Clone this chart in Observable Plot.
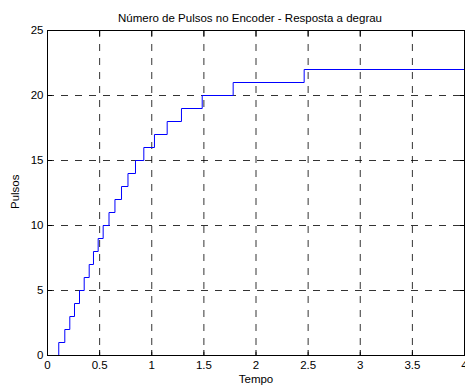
<!DOCTYPE html>
<html>
<head>
<meta charset="utf-8">
<script src="https://cdn.jsdelivr.net/npm/d3@7"></script>
<script src="https://cdn.jsdelivr.net/npm/@observablehq/plot@0.6"></script>
<style>
  html, body { margin: 0; padding: 0; background: #fff; }
  svg { display: block; }
</style>
</head>
<body>
<div id="chart"></div>
<script>
const titleText = "Número de Pulsos no Encoder - Resposta a degrau";
const xLabel = "Tempo";
const yLabel = "Pulsos";

// step times (s) and pulse counts (step-after)
const tempo = [0, 0.108, 0.166, 0.214, 0.259, 0.307, 0.352, 0.400, 0.441, 0.486, 0.534,
  0.590, 0.647, 0.710, 0.772, 0.844, 0.924, 1.026, 1.148, 1.285, 1.484, 1.781, 2.462, 4];
const pulsos = [0, 1, 2, 3, 4, 5, 6, 7, 8, 9, 10,
  11, 12, 13, 14, 15, 16, 17, 18, 19, 20, 21, 22, 22];

const xTicks = [0, 0.5, 1, 1.5, 2, 2.5, 3, 3.5, 4];
const yTicks = [0, 5, 10, 15, 20, 25];
const xGrid = [0.5, 1, 1.5, 2, 2.5, 3, 3.5];
const yGrid = [5, 10, 15, 20];

const data = tempo.map((t, i) => ({t, p: pulsos[i]}));
const fmt = d => String(d);
const font = "Liberation Sans, Arial, Helvetica, sans-serif";

const chart = Plot.plot({
  width: 465,
  height: 390,
  marginLeft: 47,
  marginRight: 1,
  marginTop: 30,
  marginBottom: 35,
  style: {fontFamily: font, fontSize: "11.5px", color: "#000", background: "#fff"},
  x: {domain: [0, 4], label: null},
  y: {domain: [0, 25], label: null},
  marks: [
    Plot.ruleX(xGrid, {stroke: "#000", strokeDasharray: "7,7", strokeWidth: 1, strokeOpacity: 0.8}),
    Plot.ruleY(yGrid, {stroke: "#000", strokeDasharray: "7,7", strokeWidth: 1, strokeOpacity: 0.8}),
    Plot.line(data, {x: "t", y: "p", curve: "step-after", stroke: "#0000ff", strokeWidth: 1}),
    Plot.frame({stroke: "#000", strokeWidth: 1}),
    Plot.axisX(xTicks, {anchor: "bottom", tickSize: -5, tickPadding: 10, tickFormat: fmt, label: null, fontSize: 11.5}),
    Plot.axisX(xTicks, {anchor: "top", tickSize: -5, tickFormat: () => "", label: null}),
    Plot.axisY(yTicks, {anchor: "left", tickSize: -5, tickPadding: 9, tickFormat: fmt, label: null, fontSize: 11.5}),
    Plot.axisY(yTicks, {anchor: "right", tickSize: -5, tickFormat: () => "", label: null}),
    Plot.text([titleText], {frameAnchor: "top", dy: -17, dx: -6, fontSize: 11.5, fill: "#000"}),
    Plot.text([xLabel], {frameAnchor: "bottom", dy: 27, fontSize: 11.5, fill: "#000"}),
    Plot.text([yLabel], {frameAnchor: "left", dx: -32, dy: 16, rotate: -90, fontSize: 11.5, fill: "#000"})
  ]
});
document.getElementById("chart").appendChild(chart);
</script>
</body>
</html>
